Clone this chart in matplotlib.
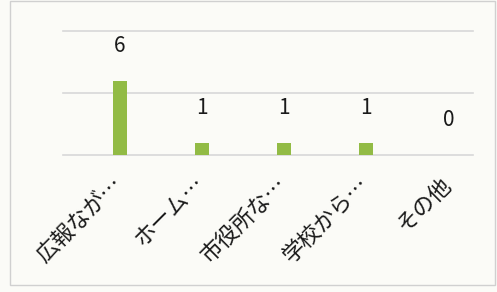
import matplotlib.pyplot as plt
from matplotlib.patches import Rectangle
from matplotlib.transforms import ScaledTranslation

plt.rcParams['font.family'] = ['Noto Sans CJK JP', 'DejaVu Sans']

categories = ['広報なが…', 'ホーム…', '市役所な…', '学校から…', 'その他']
counts = [6, 1, 1, 1, 0]

fig = plt.figure(figsize=(4.97, 2.92), dpi=100, facecolor='#fbfbf7')
ax = fig.add_axes([0.127, 0.469, 0.825, 0.425])
ax.set_facecolor('#fbfbf7')

x = range(len(categories))
ax.bar(x, counts, width=0.17, color='#92bb45', zorder=2)

# value labels sit well above the bars
for i, v in enumerate(counts):
    ax.annotate(str(v), (i, v), xytext=(0, 25), textcoords='offset points',
                ha='center', va='center', fontsize=15, color='#1a1a1a')

ax.set_ylim(0, 10)
ax.set_xlim(-0.69, 4.3)
ax.set_yticks([0, 5, 10])
ax.yaxis.grid(True, color='#d8d8d8', linewidth=1.2)
for gl in ax.get_ygridlines():
    gl.set_clip_on(False)
ax.set_yticklabels([])
ax.tick_params(left=False, bottom=False)
for s in ax.spines.values():
    s.set_visible(False)

ax.set_xticks(list(x))
ax.set_xticklabels(categories, rotation=45, ha='right', rotation_mode='anchor',
                   fontsize=16, color='#1a1a1a')
ax.tick_params(axis='x', pad=6)
shift = ScaledTranslation(-9 / 100, -4 / 100, fig.dpi_scale_trans)
for lbl in ax.get_xticklabels():
    lbl.set_transform(lbl.get_transform() + shift)

# outer frame of the chart area
fig.patches.append(Rectangle((0.02, 0.025), 0.975, 0.97, transform=fig.transFigure,
                             fill=False, edgecolor='#d0d0d0', linewidth=1))

fig.savefig('out.png', dpi=100, facecolor=fig.get_facecolor())
